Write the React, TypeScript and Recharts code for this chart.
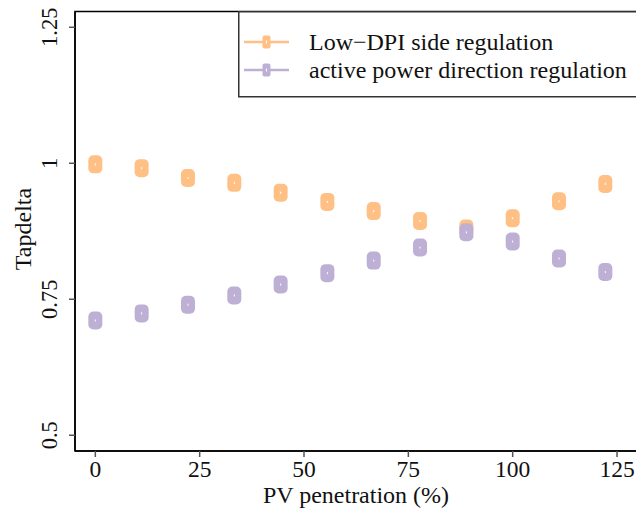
import * as React from "react"
import {
  ScatterChart, Scatter, XAxis, YAxis, ReferenceArea, Label
} from "recharts"

// PV penetration (%)
const xValues = [0, 11.1, 22.2, 33.3, 44.4, 55.6, 66.7, 77.8, 88.9, 100, 111.1, 122.2]
// Tapdelta per strategy
const lowDpi = [0.998, 0.991, 0.973, 0.964, 0.946, 0.929, 0.912, 0.894, 0.88, 0.899, 0.93, 0.962]
const activePower = [0.711, 0.724, 0.74, 0.757, 0.777, 0.798, 0.821, 0.845, 0.873, 0.856, 0.825, 0.8]

const xTicks = [0, 25, 50, 75, 100, 125]
const yTicks = [0.5, 0.75, 1, 1.25]
const xDomain: [number, number] = [-4.87, 132.9]
const yDomain: [number, number] = [0.471, 1.279]

const ORANGE = "#FFC085"
const PURPLE = "#BEB0D5"
const FONT = "'Liberation Serif', 'Times New Roman', serif"

const seriesA = xValues.map((x, i) => ({ x, y: lowDpi[i] }))
const seriesB = xValues.map((x, i) => ({ x, y: activePower[i] }))

function marker(color: string) {
  return (p: any) => (
    <g>
      <rect x={p.cx - 7} y={p.cy - 9} width={14} height={18} rx={5} ry={5} fill={color} />
      <rect x={p.cx - 0.5} y={p.cy - 1} width={1} height={2} fill="#fff" />
    </g>
  )
}

// bottom axis line sits at y=451
function XTick({ x, payload }: any) {
  return (
    <g>
      <line x1={x} x2={x} y1={451} y2={457} stroke="#555" strokeWidth={1.5} />
      <text x={x} y={476.5} textAnchor="middle" fontFamily={FONT} fontSize={23.5} fill="#111">
        {payload.value}
      </text>
    </g>
  )
}

function YTick({ y, payload }: any) {
  return (
    <g>
      <line x1={69} x2={75} y1={y} y2={y} stroke="#555" strokeWidth={1.5} />
      <text x={57} y={y} transform={`rotate(-90, 57, ${y})`} textAnchor="middle"
        fontFamily={FONT} fontSize={22.5} fill="#111">
        {payload.value}
      </text>
    </g>
  )
}

const legendItems = [
  { name: "Low\u2212DPI side regulation", color: ORANGE },
  { name: "active power direction regulation", color: PURPLE },
]

function LegendBox() {
  return (
    <svg width={420} height={87} style={{ display: "block" }}>
      <rect x={0.75} y={0.75} width={430} height={85} fill="#fff" stroke="#333" strokeWidth={1.5} />
      {legendItems.map((it, i) => {
        const cy = 31 + i * 28
        return (
          <g key={it.name}>
            <line x1={6} x2={51} y1={cy} y2={cy} stroke={it.color} strokeWidth={2.5} />
            <rect x={24.5} y={cy - 6.5} width={8} height={13} rx={2} fill={it.color} />
            <rect x={28} y={cy - 1.5} width={1} height={3} fill="#fff" />
            <text x={71} y={cy + 8} fontFamily={FONT} fontSize={24} fill="#111">{it.name}</text>
          </g>
        )
      })}
    </svg>
  )
}

export default function App() {
  return (
    <div style={{ position: "fixed", left: 0, top: 0, width: 636, height: 512, overflow: "hidden", background: "#fff" }}>
      <ScatterChart width={680} height={512} margin={{ top: 11.5, right: 30, bottom: 0, left: 0 }}>
        <XAxis type="number" dataKey="x" domain={xDomain} ticks={xTicks} allowDataOverflow
          height={61} axisLine={{ stroke: "#000", strokeWidth: 1.5 }} tickLine={false} tick={<XTick />}>
          <Label content={() => (
            <text x={356} y={503} textAnchor="middle" fontFamily={FONT} fontSize={24} fill="#111">
              PV penetration (%)
            </text>
          )} />
        </XAxis>
        <YAxis type="number" dataKey="y" domain={yDomain} ticks={yTicks} allowDataOverflow
          width={75} axisLine={{ stroke: "#000", strokeWidth: 1.5 }} tickLine={false} tick={<YTick />}>
          <Label content={() => (
            <text x={31} y={229} transform="rotate(-90, 31, 229)" textAnchor="middle"
              fontFamily={FONT} fontSize={24} fill="#111">
              Tapdelta
            </text>
          )} />
        </YAxis>
        <ReferenceArea x1={xDomain[0]} x2={xDomain[1]} y1={yDomain[0]} y2={yDomain[1]}
          fill="none" stroke="#000" strokeWidth={1.5} ifOverflow="visible" />
        <Scatter name="Low-DPI" data={seriesA} shape={marker(ORANGE)} isAnimationActive={false} />
        <Scatter name="active" data={seriesB} shape={marker(PURPLE)} isAnimationActive={false} />
      </ScatterChart>
      <div style={{ position: "absolute", left: 238, top: 10.5 }}>
        <LegendBox />
      </div>
    </div>
  )
}
